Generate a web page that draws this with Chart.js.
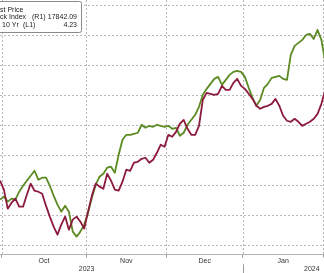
<!DOCTYPE html>
<html>
<head>
<meta charset="utf-8">
<script src="https://cdn.jsdelivr.net/npm/chart.js@4.4.1/dist/chart.umd.min.js"></script>
<style>
  html, body { margin: 0; padding: 0; background: #fff; }
  #chart { display: block; }
</style>
</head>
<body>
<canvas id="chart" width="324" height="273"></canvas>
<script>
// trading days shown in the window
const dates = [
    '2023-09-29',
    '2023-10-02', '2023-10-03', '2023-10-04', '2023-10-05', '2023-10-06', '2023-10-09', '2023-10-10', '2023-10-11',
    '2023-10-12', '2023-10-13', '2023-10-16', '2023-10-17', '2023-10-18', '2023-10-19', '2023-10-20', '2023-10-23',
    '2023-10-24', '2023-10-25', '2023-10-26', '2023-10-27', '2023-10-30', '2023-10-31',
    '2023-11-01', '2023-11-02', '2023-11-03', '2023-11-06', '2023-11-07', '2023-11-08', '2023-11-09', '2023-11-10',
    '2023-11-13', '2023-11-14', '2023-11-15', '2023-11-16', '2023-11-17', '2023-11-20', '2023-11-21', '2023-11-22',
    '2023-11-24', '2023-11-27', '2023-11-28', '2023-11-29', '2023-11-30',
    '2023-12-01', '2023-12-04', '2023-12-05', '2023-12-06', '2023-12-07', '2023-12-08', '2023-12-11', '2023-12-12',
    '2023-12-13', '2023-12-14', '2023-12-15', '2023-12-18', '2023-12-19', '2023-12-20', '2023-12-21', '2023-12-22',
    '2023-12-26', '2023-12-27', '2023-12-28', '2023-12-29',
    '2024-01-02', '2024-01-03', '2024-01-04', '2024-01-05', '2024-01-08', '2024-01-09', '2024-01-10', '2024-01-11',
    '2024-01-12', '2024-01-16', '2024-01-17', '2024-01-18', '2024-01-19', '2024-01-22', '2024-01-23', '2024-01-24',
    '2024-01-25', '2024-01-26', '2024-01-29', '2024-01-30', '2024-01-31',
    '2024-02-01'
];

// Stock Index (R1)
const indexPrices = [
    14750,
    14800, 14717, 14767, 14750, 14883, 14983, 15067, 15150, 15233, 15083, 15117, 15117, 14983, 14817, 14667, 14550,
    14650, 14550, 14217, 14133, 14217, 14333,
    14533, 14783, 15000, 15133, 15183, 15283, 15300, 15200, 15500, 15750, 15833, 15833, 15850, 15867, 16000, 15950,
    15983, 15967, 16000, 15983, 15967,
    15983, 15933, 15950, 15817, 15867, 16000, 16083, 16167, 16300, 16500, 16600, 16683, 16767, 16800, 16667, 16750,
    16833, 16883, 16900, 16883,
    16800, 16617, 16450, 16317, 16417, 16617, 16683, 16783, 16800, 16817, 16767, 16750, 17167, 17317, 17367, 17417,
    17500, 17517, 17433, 17583, 17417,
    17050
];

// 10 Yr (L1), plotted on an inverted axis
const yield10y = [
    4.573,
    4.633, 4.760, 4.720, 4.693, 4.747, 4.747, 4.667, 4.593, 4.640, 4.647, 4.660, 4.740, 4.813, 4.880, 4.933, 4.867,
    4.813, 4.900, 4.833, 4.813, 4.847, 4.893,
    4.780, 4.673, 4.593, 4.613, 4.627, 4.527, 4.573, 4.633, 4.640, 4.580, 4.500, 4.507, 4.453, 4.447, 4.427, 4.420,
    4.453, 4.433, 4.387, 4.333, 4.347,
    4.267, 4.280, 4.247, 4.193, 4.167, 4.227, 4.267, 4.267, 4.207, 4.033, 3.987, 3.993, 4.000, 3.993, 3.940, 3.967,
    3.967, 3.920, 3.893, 3.940,
    3.960, 3.993, 4.027, 4.073, 4.093, 4.080, 4.073, 4.060, 4.027, 4.073, 4.140, 4.173, 4.180, 4.160, 4.180, 4.207,
    4.193, 4.180, 4.160, 4.127, 4.060,
    3.967
];

const yieldTicks = [3.4, 3.6, 3.8, 4.0, 4.2, 4.4, 4.6, 4.8, 5.0];
const yieldRange = [3.3667, 5.0667];
const indexRange = [13833, 18083];
const monthNames = ['Jan', 'Feb', 'Mar', 'Apr', 'May', 'Jun', 'Jul', 'Aug', 'Sep', 'Oct', 'Nov', 'Dec'];
const yearLabels = ['2023', '2024'];
const yearLabelPos = [22.6, 81.5];
const legendRows = [
    { name: 'st Price', axis: '', last: '' },
    { name: 'ck Index', axis: '(R1)', last: '17842.09' },
    { name: '10 Yr', axis: '(L1)', last: '4.23' }
];

const GREEN = '#5b8b22';
const RED = '#8c1a3c';
const GRID = '#b8b8b8';
const DASH = [2, 2];
const TEXT = '#333333';
const FONT = { family: '"Liberation Sans", Arial, sans-serif', size: 7, lineHeight: 1.1 };

// month boundaries sit between the last day of one month and the first of the next
const monthStarts = [];
dates.forEach((d, i) => {
    if (i > 0 && d.slice(0, 7) !== dates[i - 1].slice(0, 7)) monthStarts.push(i - 0.5);
});
const xMin = -0.02, xMax = 84.68;
const monthMarks = [];
for (let k = 0; k < monthStarts.length - 1; k++) {
    const m = parseInt(dates[monthStarts[k] + 0.5].slice(5, 7), 10);
    monthMarks.push({ value: (monthStarts[k] + monthStarts[k + 1]) / 2, label: monthNames[m - 1] });
}
const yearStart = monthStarts.find(b => dates[b + 0.5].slice(5, 7) === '01');

const greenData = indexPrices.map((v, i) => ({ x: i, y: v }));
const redData = yield10y.map((v, i) => ({ x: i, y: v }));

// dotted grid drawn from the scales' own tick pixels
const dottedGrid = {
    id: 'dottedGrid',
    beforeDatasetsDraw(chart) {
        const { ctx, chartArea: a } = chart;
        ctx.save();
        ctx.strokeStyle = GRID;
        ctx.lineWidth = 1;
        ctx.setLineDash(DASH);
        chart.scales.yL.ticks.forEach(t => {
            const y = Math.round(chart.scales.yL.getPixelForValue(t.value)) + 0.5;
            ctx.beginPath(); ctx.moveTo(a.left, y); ctx.lineTo(a.right, y); ctx.stroke();
        });
        chart.scales.x.ticks.forEach(t => {
            const x = Math.round(chart.scales.x.getPixelForValue(t.value)) + 0.5;
            ctx.beginPath(); ctx.moveTo(x, a.top); ctx.lineTo(x, a.bottom); ctx.stroke();
        });
        ctx.restore();
    }
};

const overlay = {
    id: 'overlay',
    afterDraw(chart) {
        const ctx = chart.ctx;
        const yr = chart.scales.xYear;
        const sx = chart.scales.x.getPixelForValue(yearStart);
        ctx.save();
        ctx.strokeStyle = '#9a9a9a';
        ctx.lineWidth = 1;
        ctx.beginPath();
        ctx.moveTo(Math.round(sx) + 0.5, yr.top - 1);
        ctx.lineTo(Math.round(sx) + 0.5, chart.height);
        ctx.stroke();

        // legend box (cut by the left edge)
        ctx.fillStyle = '#ffffff';
        ctx.strokeStyle = '#8a8a8a';
        ctx.beginPath();
        ctx.roundRect(-3.5, 1.5, 85, 31, 2);
        ctx.fill();
        ctx.stroke();
        ctx.fillStyle = '#222';
        ctx.font = '7px "Liberation Sans", Arial, sans-serif';
        ctx.textBaseline = 'middle';
        legendRows.forEach((r, k) => {
            const y = 10 + k * 7.5;
            ctx.textAlign = 'left';
            ctx.fillText(r.name, r.name === '10 Yr' ? 2 : 0, y);
            if (r.axis) ctx.fillText(r.axis, r.name === '10 Yr' ? 23 : 32, y);
            ctx.textAlign = 'right';
            if (r.last) ctx.fillText(r.last, 77, y);
        });
        ctx.restore();
    }
};

new Chart(document.getElementById('chart'), {
    type: 'line',
    data: {
        datasets: [
            { label: '10 Yr (L1)', data: redData, yAxisID: 'yL', borderColor: RED, borderWidth: 1.8, pointRadius: 0, tension: 0, borderJoinStyle: 'round' },
            { label: 'Stock Index (R1)', data: greenData, yAxisID: 'yR', borderColor: GREEN, borderWidth: 1.8, pointRadius: 0, tension: 0, borderJoinStyle: 'round' }
        ]
    },
    options: {
        responsive: false,
        animation: false,
        devicePixelRatio: 1,
        layout: { padding: 0 },
        plugins: { legend: { display: false }, tooltip: { enabled: false } },
        scales: {
            x: {
                type: 'linear', position: 'bottom', min: xMin, max: xMax,
                afterBuildTicks: s => { s.ticks = monthStarts.filter(v => v > xMin && v < xMax).map(v => ({ value: v })); },
                ticks: { display: false, autoSkip: false },
                grid: { drawOnChartArea: false, color: '#999', tickLength: 3 },
                border: { display: true, color: '#b5b5b5' }
            },
            xMonth: {
                type: 'linear', position: 'bottom', min: xMin, max: xMax,
                afterBuildTicks: s => { s.ticks = monthMarks.map(m => ({ value: m.value })); },
                ticks: {
                    autoSkip: false, maxRotation: 0, padding: 0, color: TEXT, font: FONT,
                    callback: v => (monthMarks.find(m => m.value === v) || {}).label || ''
                },
                grid: { display: false, drawTicks: false },
                border: { display: false }
            },
            xYear: {
                type: 'linear', position: 'bottom', min: xMin, max: xMax,
                afterBuildTicks: s => { s.ticks = yearLabelPos.map(v => ({ value: v })); },
                ticks: {
                    autoSkip: false, maxRotation: 0, padding: 0, color: TEXT, font: FONT,
                    callback: v => yearLabels[yearLabelPos.indexOf(v)] || ''
                },
                grid: { display: false, drawTicks: false },
                border: { display: false }
            },
            yL: {
                type: 'linear', position: 'left', reverse: true,
                min: yieldRange[0], max: yieldRange[1],
                afterBuildTicks: s => { s.ticks = yieldTicks.map(v => ({ value: v })); },
                ticks: { display: false },
                grid: { display: false, drawTicks: false },
                border: { display: false }
            },
            yR: {
                type: 'linear', position: 'right', display: false,
                min: indexRange[0], max: indexRange[1]
            }
        }
    },
    plugins: [dottedGrid, overlay]
});
</script>
</body>
</html>
